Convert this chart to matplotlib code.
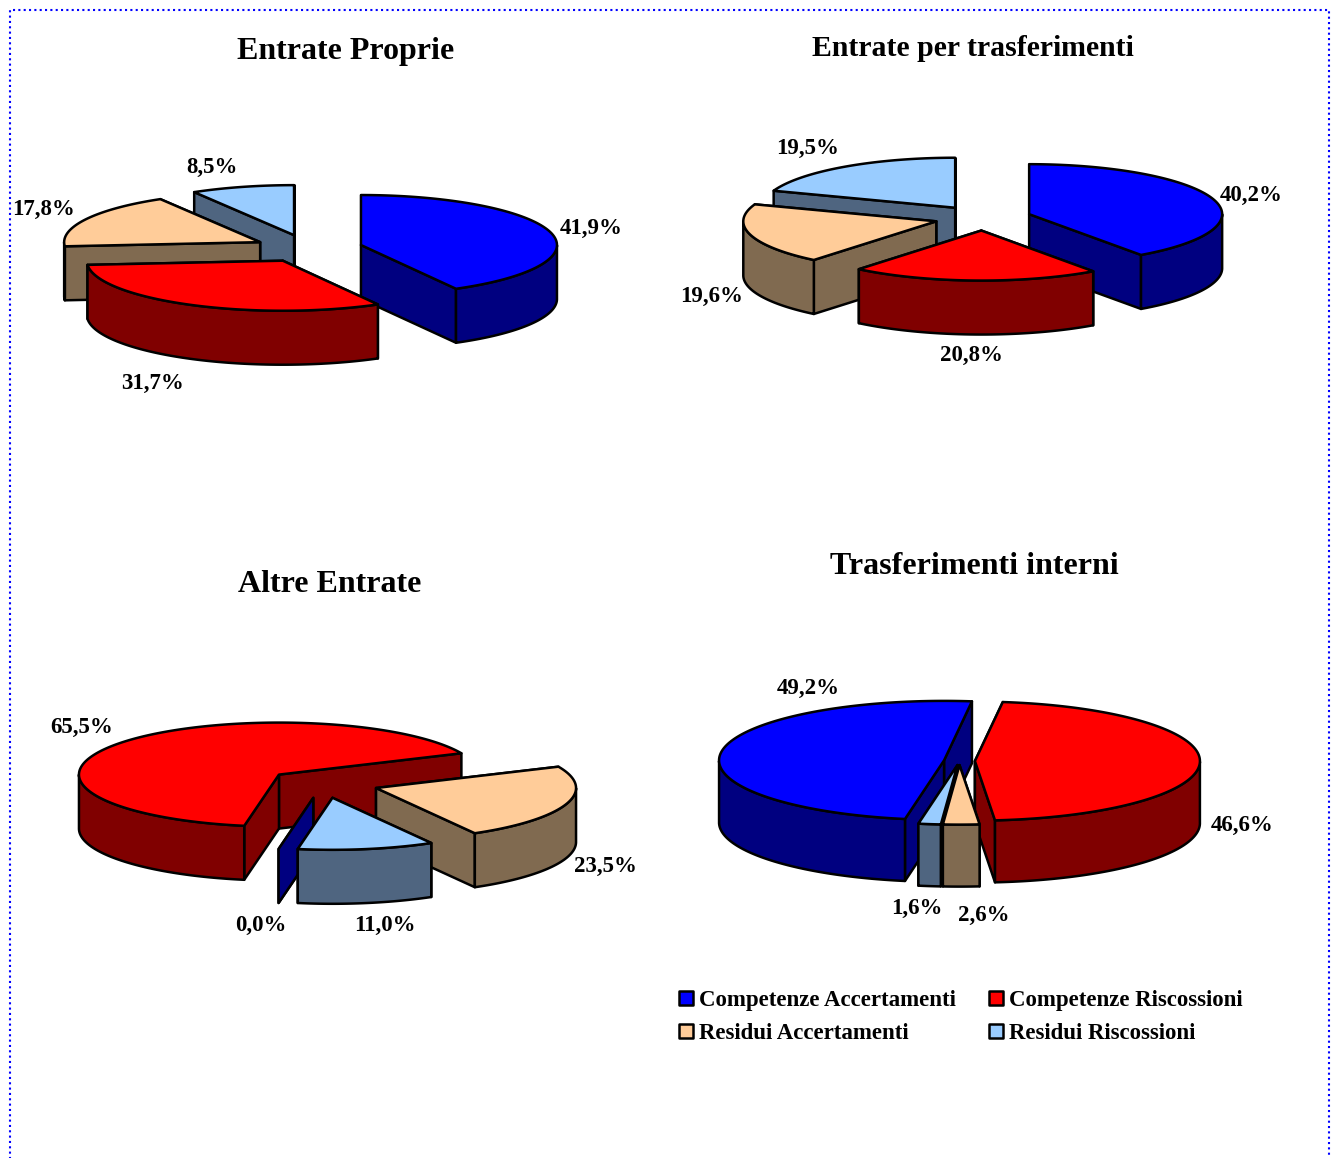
import numpy as np
import matplotlib
matplotlib.use("Agg")
import matplotlib.pyplot as plt
from matplotlib.patches import Polygon, Rectangle

plt.rcParams['font.family'] = ['Liberation Serif', 'DejaVu Sans']

# Data (order: comp. acc., comp. risc., res. acc., res. risc.)
series = ["Competenze Accertamenti", "Competenze Riscossioni", "Residui Accertamenti", "Residui Riscossioni"]
proprie = [41.9, 31.7, 17.8, 8.5]
trasferimenti = [40.2, 20.8, 19.6, 19.5]
altre = [0.0, 65.5, 23.5, 11.0]
interni = [49.2, 46.6, 2.6, 1.6]

# Colours of top and side of every slice
top_colors = ["#0000FF", "#FF0000", "#FFCC99", "#99CCFF"]
side_colors = ["#000080", "#800000", "#806A50", "#4F6580"]

W, H = 1337, 1158
LW = 1.8


def pie3d(ax, values, cx, cy, rx, ry, depth, explode, start, order):
    # start angle in degrees, slices go clockwise on a squashed circle
    total = sum(values)
    angles = [start]
    for v in values:
        angles.append(angles[-1] - v / total * 360)
    for i in order:
        a0, a1 = angles[i], angles[i + 1]
        mid = np.radians((a0 + a1) / 2)
        x0 = cx + explode * rx * np.cos(mid)
        y0 = cy - explode * ry * np.sin(mid)
        th = np.radians(np.linspace(a0, a1, 240))
        xs = x0 + rx * np.cos(th)
        ys = y0 - ry * np.sin(th)

        # the two radial faces, the one further back first
        for k in sorted((0, -1), key=lambda n: ys[n]):
            face = [(x0, y0), (xs[k], ys[k]), (xs[k], ys[k] + depth), (x0, y0 + depth)]
            ax.add_patch(Polygon(face, closed=True, fc=side_colors[i], ec="black", lw=LW, joinstyle="round"))

        # outer wall, only where the rim faces the viewer
        front = np.sin(th) <= 0
        idx = np.where(front)[0]
        if len(idx) > 1 and values[i] > 0:
            for run in np.split(idx, np.where(np.diff(idx) > 1)[0] + 1):
                if len(run) < 2:
                    continue
                px = np.r_[xs[run], xs[run][::-1]]
                py = np.r_[ys[run], ys[run][::-1] + depth]
                ax.add_patch(Polygon(np.c_[px, py], closed=True, fc=side_colors[i], ec="black", lw=LW, joinstyle="round"))

        # top
        if values[i] > 0:
            px = np.r_[x0, xs]
            py = np.r_[y0, ys]
            ax.add_patch(Polygon(np.c_[px, py], closed=True, fc=top_colors[i], ec="black", lw=LW, joinstyle="round"))


def pct(v):
    return f"{v:.1f}%".replace(".", ",")


fig = plt.figure(figsize=(W / 100, H / 100), dpi=100)
ax = fig.add_axes([0, 0, 1, 1])
ax.set_xlim(0, W)
ax.set_ylim(H, 0)
ax.axis("off")

# dotted frame, open at the bottom
ax.plot([10, 10, 1329, 1329], [H + 5, 10, 10, H + 5], color="#0000FF", lw=1.5,
        linestyle=(0, (1, 1.56)), solid_capstyle="butt")

pie3d(ax, proprie, 308.4, 248.5, 196, 50, 54, 0.277, 90, [3, 2, 0, 1])
pie3d(ax, trasferimenti, 983, 218, 193, 50, 54, 0.251, 90, [3, 2, 0, 1])
pie3d(ax, altre, 323, 783.5, 200, 52, 54, 0.279, -100, [1, 2, 0, 3])
pie3d(ax, interni, 959.4, 761, 225, 59.5, 62, 0.069, -100, [0, 1, 3, 2])

# titles
ax.text(345.5, 52, "Entrate Proprie", fontsize=23, fontweight="bold", ha="center", va="center")
ax.text(973, 48, "Entrate per trasferimenti", fontsize=21.4, fontweight="bold", ha="center", va="center")
ax.text(330, 584, "Altre Entrate", fontsize=23, fontweight="bold", ha="center", va="center")
ax.text(974, 567, "Trasferimenti interni", fontsize=23, fontweight="bold", ha="center", va="center")

# percentage labels
label_pos = [
    (proprie, [(591, 228), (152, 383), (43, 209), (212, 167)]),
    (trasferimenti, [(1251, 195), (971, 355), (712, 296), (808, 148)]),
    (altre, [(261, 925), (82, 727), (605, 866), (385, 925)]),
    (interni, [(808, 688), (1242, 825), (984, 915), (917, 908)]),
]
for vals, pos in label_pos:
    for v, (x, y) in zip(vals, pos):
        ax.text(x, y, pct(v), fontsize=16.5, fontweight="bold", ha="center", va="center")

# legend
legend_pos = [(678, 999), (988, 999), (678, 1032), (988, 1032)]
for name, col, (x, y) in zip(series, top_colors, legend_pos):
    ax.add_patch(Rectangle((x + 0.5, y - 8), 14, 14, fc=col, ec="black", lw=1.8, joinstyle="round"))
    ax.text(x + 21, y + 1.5, name, fontsize=16.5, fontweight="bold", ha="left", va="center")

fig.savefig("out.png", dpi=100)
